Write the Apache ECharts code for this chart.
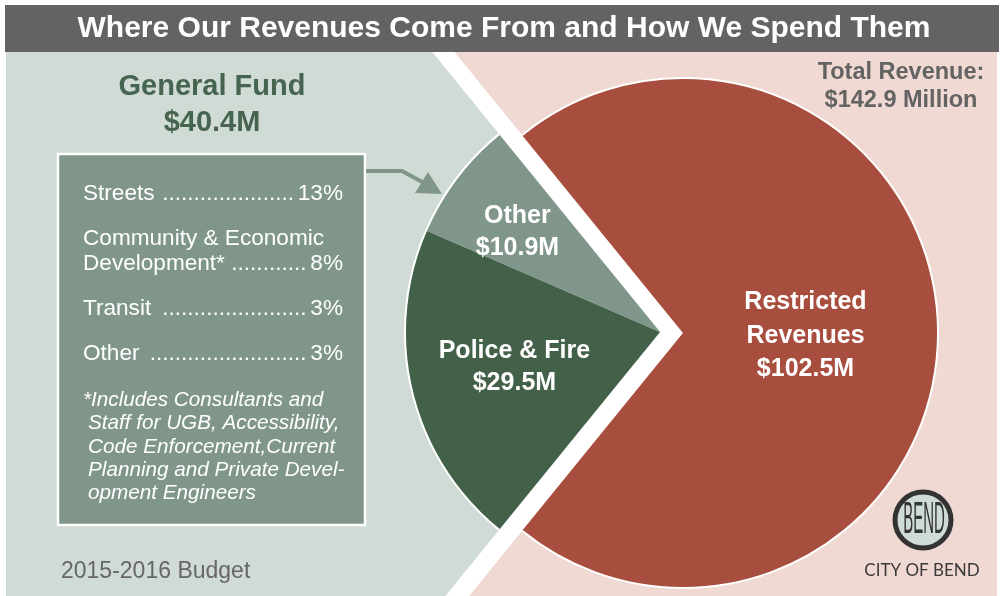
<!DOCTYPE html>
<html><head><meta charset="utf-8">
<script src="https://cdn.jsdelivr.net/npm/echarts@6/dist/echarts.min.js"></script>
<style>html,body{margin:0;padding:0;background:#fff}#c{width:1004px;height:596px}</style>
</head><body><div id="c"></div>
<script>
// ---- data ----
const titleText = 'Where Our Revenues Come From and How We Spend Them';
const sliceNames = ['Police & Fire', 'Other', 'Restricted\nRevenues'];
const sliceValues = [29.5, 10.9, 102.5];
const breakdownNames = ['Streets', 'Community & Economic\nDevelopment*', 'Transit', 'Other'];
const breakdownPct = [13, 8, 3, 3];
const footnoteLines = ['*Includes Consultants and', 'Staff for UGB, Accessibility,', 'Code Enforcement,Current', 'Planning and Private Devel-', 'opment Engineers'];
const budgetLabel = '2015-2016 Budget';
const logoText = 'CITY OF BEND';

// ---- derived ----
const total = sliceValues.reduce((a, b) => a + b, 0);
const generalFund = sliceValues[0] + sliceValues[1];

// ---- layout / style ----
const FONT = "'Liberation Sans', Arial, sans-serif";
const C = { bar: '#636363', leftBg: '#d0dbd5', rightBg: '#f0d9d2', red: '#a84e3e', dark: '#436149', mid: '#81968a', head: '#466550', grayText: '#636363' };
const R = 255, cG = [660, 332], cR = [683, 333];
const TOP = 52, BOTTOM = 596, LEFT = 6, RIGHT = 997;
const gapDeg = generalFund / total * 360;
const aU = 180 - gapDeg / 2, aL = 180 + gapDeg / 2;
function xAt(c, ang, y) { const a = ang * Math.PI / 180; return c[0] + (c[1] - y) * Math.cos(a) / Math.sin(a); }
function off(frac, mid, dx, dy) { const a = mid * Math.PI / 180, d = (frac - 0.5) * R; return [d * Math.cos(a) + dx, -d * Math.sin(a) + dy]; }

const policeMid = aL - sliceValues[0] / total * 180;
const otherMid = aL - sliceValues[0] / total * 360 - sliceValues[1] / total * 180;

const labelStyle = { show: true, position: 'inside', color: '#fff', fontFamily: FONT, fontWeight: 'bold', fontSize: 25, lineHeight: 32,
  formatter: p => p.name + '\n$' + p.value.toFixed(1) + 'M' };
const hidden = { value: 0, itemStyle: { color: 'rgba(0,0,0,0)' }, label: { show: false } };

const measure = (() => { const ctx = document.createElement('canvas').getContext('2d'); return (t, f) => { ctx.font = f; return ctx.measureText(t).width; }; })();

const G = [];
// backgrounds
G.push({ type: 'polygon', z: 0, shape: { points: [[LEFT, TOP], [xAt(cG, aU, TOP), TOP], cG, [xAt(cG, aL, BOTTOM), BOTTOM], [LEFT, BOTTOM]] }, style: { fill: C.leftBg } });
G.push({ type: 'polygon', z: 0, shape: { points: [[RIGHT, TOP], [xAt(cR, aU, TOP), TOP], cR, [xAt(cR, aL, BOTTOM), BOTTOM], [RIGHT, BOTTOM]] }, style: { fill: C.rightBg } });
// title bar
G.push({ type: 'rect', z: 1, shape: { x: LEFT - 1, y: 5, width: RIGHT - LEFT + 3, height: 47 }, style: { fill: C.bar } });
G.push({ type: 'text', z: 5, x: 504, y: 29, style: { text: titleText, fill: '#fff', fontFamily: FONT, fontWeight: 'bold', fontSize: 30, textAlign: 'center', textVerticalAlign: 'middle' } });
// arcs (white outline)
const rad = d => -d * Math.PI / 180;
G.push({ type: 'arc', z: 10, shape: { cx: cG[0], cy: cG[1], r: R, startAngle: rad(aU), endAngle: rad(aL), clockwise: false }, style: { stroke: '#fff', lineWidth: 2, fill: null } });
G.push({ type: 'arc', z: 10, shape: { cx: cR[0], cy: cR[1], r: R, startAngle: rad(aU), endAngle: rad(aL), clockwise: true }, style: { stroke: '#fff', lineWidth: 2, fill: null } });
// general fund header
G.push({ type: 'text', z: 5, x: 212, y: 87, style: { text: 'General Fund', fill: C.head, fontFamily: FONT, fontWeight: 'bold', fontSize: 29, textAlign: 'center', textVerticalAlign: 'middle' } });
G.push({ type: 'text', z: 5, x: 212, y: 123, style: { text: '$' + generalFund.toFixed(1) + 'M', fill: C.head, fontFamily: FONT, fontWeight: 'bold', fontSize: 29, textAlign: 'center', textVerticalAlign: 'middle' } });
// total revenue
G.push({ type: 'text', z: 5, x: 901, y: 73, style: { text: 'Total Revenue:', fill: C.grayText, fontFamily: FONT, fontWeight: 'bold', fontSize: 23.5, textAlign: 'center', textVerticalAlign: 'middle' } });
G.push({ type: 'text', z: 5, x: 901, y: 101, style: { text: '$' + total.toFixed(1) + ' Million', fill: C.grayText, fontFamily: FONT, fontWeight: 'bold', fontSize: 23.5, textAlign: 'center', textVerticalAlign: 'middle' } });
// box
G.push({ type: 'rect', z: 3, shape: { x: 58, y: 154, width: 307, height: 371 }, style: { fill: C.mid, stroke: '#fff', lineWidth: 2.5 } });
// arrow
G.push({ type: 'polyline', z: 3, shape: { points: [[366, 171], [402, 171], [424, 183]] }, style: { stroke: C.mid, lineWidth: 4, fill: null } });
G.push({ type: 'polygon', z: 3, shape: { points: [[442, 194], [415, 193], [428, 172]] }, style: { fill: C.mid } });
// breakdown rows
const BF = 22.6, bfont = BF + 'px ' + FONT;
let y = 194;
const xL = 83, xR = 343;
breakdownNames.forEach((name, i) => {
  const lines = name.split('\n');
  lines.forEach((ln, j) => {
    G.push({ type: 'text', z: 5, x: xL, y: y + j * 25, style: { text: ln, fill: '#fff', fontFamily: FONT, fontSize: BF, textAlign: 'left', textVerticalAlign: 'middle' } });
  });
  const ly = y + (lines.length - 1) * 25;
  const pct = breakdownPct[i] + '%';
  G.push({ type: 'text', z: 5, x: xR, y: ly, style: { text: pct, fill: '#fff', fontFamily: FONT, fontSize: BF, textAlign: 'right', textVerticalAlign: 'middle' } });
  const sp = measure(' ', bfont), dw = measure('.', bfont);
  const start = xL + measure(lines[lines.length - 1], bfont) + sp;
  const end = xR - measure(pct, bfont) - sp * 0.6;
  const n = Math.floor((end - start) / dw);
  G.push({ type: 'text', z: 5, x: end, y: ly, style: { text: '.'.repeat(n), fill: '#fff', fontFamily: FONT, fontSize: BF, textAlign: 'right', textVerticalAlign: 'middle' } });
  y = ly + 45;
});
// footnote
footnoteLines.forEach((ln, i) => {
  G.push({ type: 'text', z: 5, x: i === 0 ? 83 : 88, y: 400 + i * 23.4, style: { text: ln, fill: '#fff', fontFamily: FONT, fontStyle: 'italic', fontSize: 20.7, textAlign: 'left', textVerticalAlign: 'middle' } });
});
// budget label
G.push({ type: 'text', z: 5, x: 61, y: 572, style: { text: budgetLabel, fill: '#666', fontFamily: FONT, fontSize: 23, textAlign: 'left', textVerticalAlign: 'middle' } });
// logo
G.push({ type: 'circle', z: 5, shape: { cx: 923, cy: 520, r: 28 }, style: { fill: '#cfdcd5', stroke: '#333', lineWidth: 5 } });
G.push({ type: 'text', z: 6, x: 924, y: 521, scaleY: 2.9, style: { text: 'BEND', fill: '#333', fontFamily: FONT, fontSize: 15, textAlign: 'center', textVerticalAlign: 'middle' } });
G.push({ type: 'text', z: 5, x: 922, y: 571, style: { text: logoText, fill: '#3a3a3a', fontFamily: "Lato, 'Open Sans', sans-serif", fontSize: 17, textAlign: 'center', textVerticalAlign: 'middle' } });

const option = {
  animation: false,
  backgroundColor: '#fff',
  graphic: { elements: G },
  series: [
    {
      type: 'pie', z: 4, silent: true, center: cG, radius: R, startAngle: aL, clockwise: true, avoidLabelOverlap: false,
      emphasis: { disabled: true }, labelLine: { show: false },
      itemStyle: { borderWidth: 0 }, label: labelStyle,
      data: [
        { name: sliceNames[0], value: sliceValues[0], itemStyle: { color: C.dark }, label: { offset: off(0.58, policeMid, 1, -1) } },
        { name: sliceNames[1], value: sliceValues[1], itemStyle: { color: C.mid }, label: { offset: off(0.68, otherMid, -2, 6.5) } },
        Object.assign({}, hidden, { name: 'rest', value: sliceValues[2] })
      ]
    },
    {
      type: 'pie', z: 4, silent: true, center: cR, radius: R, startAngle: aU, clockwise: true, avoidLabelOverlap: false,
      emphasis: { disabled: true }, labelLine: { show: false },
      itemStyle: { borderWidth: 0 }, label: Object.assign({}, labelStyle, { lineHeight: 33.5 }),
      data: [
        { name: sliceNames[2], value: sliceValues[2], itemStyle: { color: C.red }, label: { offset: [-8, 3] } },
        Object.assign({}, hidden, { name: 'gf', value: generalFund })
      ]
    }
  ]
};
const chart = echarts.init(document.getElementById('c'), null, { renderer: 'canvas' });
chart.setOption(option);
</script></body></html>
